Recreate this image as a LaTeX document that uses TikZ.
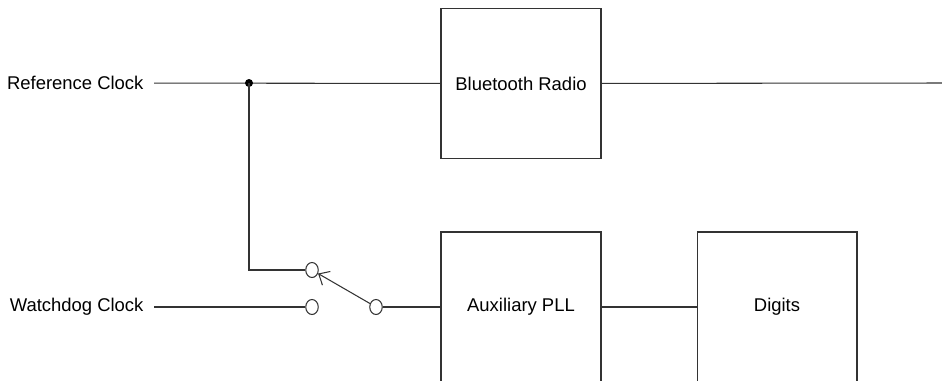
\documentclass[tikz,border=0pt]{standalone}
\usepackage{fontspec}
\setmainfont{Liberation Sans}
\usetikzlibrary{arrows.meta,shapes.geometric}

\begin{document}
\begin{tikzpicture}[x=0.02cm, y=-0.02cm, line width=0.6pt,
    blk/.style={draw=black!80, minimum width=3.2cm, minimum height=3cm, inner sep=0pt, font=\fontsize{10.5}{12}\selectfont},
    lbl/.style={inner sep=0.2cm, font=\fontsize{10.5}{12}\selectfont},
    contact/.style={draw=black!80, ellipse, minimum width=0.25cm, minimum height=0.3cm, inner sep=0pt},
    wire/.style={draw=black!80},
    >={Straight Barb[length=5pt,width=9pt]}]
      % \draw[help lines, gray!50, very thin] (0,0) grid (942,380);
      \clip (0,0) rectangle (942,380);

      \node[blk] (radio) at (521,83.5) {Bluetooth Radio};
      \node[blk] (pll) at (521,307) {Auxiliary PLL};
      \node[blk] (digits) at (777,307) {Digits};

      \node[lbl, anchor=east] (refclk) at (154,83) {Reference Clock};
      \node[lbl, anchor=east] (wdclk) at (154,307) {Watchdog Clock};

      \coordinate (jn) at (249,83);
      \coordinate (out) at (942,83);
      \node[contact] (ca) at (312,270) {};
      \node[contact] (cb) at (312,307) {};
      \node[contact] (cc) at (376,307) {};

      \draw[wire] (refclk) -- (radio);
      \draw[wire] (radio) -- (out);
      \fill[black] (jn) circle (4);
      \draw[wire] (jn) |- (ca);
      \draw[wire] (wdclk) -- (cb);
      \draw[wire] (cc) -- (pll);
      \draw[wire] (pll) -- (digits);
      \draw[wire, ->] (cc) -- (ca);
    \end{tikzpicture}
\end{document}
